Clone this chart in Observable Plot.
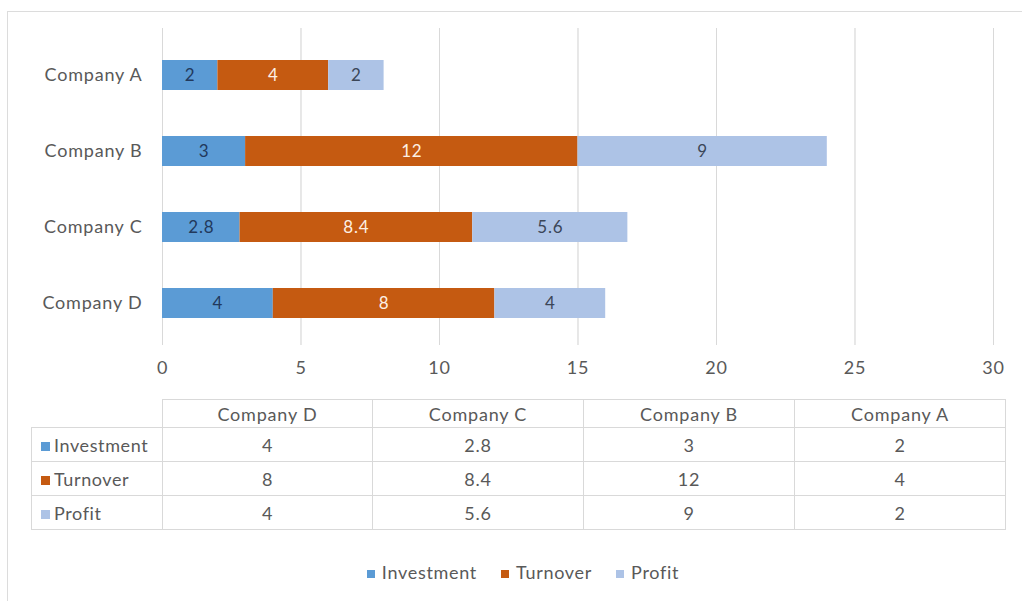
<!DOCTYPE html>
<html>
<head>
<meta charset="utf-8">
<script src="https://cdn.jsdelivr.net/npm/d3@7"></script>
<script src="https://cdn.jsdelivr.net/npm/@observablehq/plot@0.6"></script>
<style>
  html, body { margin: 0; padding: 0; background: #fff; }
  body { width: 1022px; height: 601px; position: relative; overflow: hidden; font-family: Lato, "Open Sans", sans-serif; color: #595959; }
  #frame { position: absolute; left: 7px; top: 11px; width: 1100px; height: 700px; border-left: 1.5px solid #dcdcdc; border-top: 1.5px solid #dcdcdc; }
  #chart { position: absolute; left: 0; top: 0; }
  #tbl { position: absolute; left: 31px; top: 399px; width: 974px; table-layout: fixed; border-collapse: collapse; font-size: 18px; letter-spacing: 0.8px; color: #595959; }
  #tbl td { border: 1px solid #d9d9d9; text-align: center; padding: 0; }
  #tbl td.lab { text-align: left; padding-left: 9px; white-space: nowrap; letter-spacing: 0.6px; }
  #tbl td.blank { border: none; }
  .sw { display: inline-block; width: 9px; height: 9px; margin-right: 4px; vertical-align: 1px; }
  #legend { position: absolute; top: 561px; left: 0; width: 1022px; display: flex; justify-content: center; font-size: 18px; letter-spacing: 0.7px; color: #595959; padding-left: 24px; box-sizing: border-box; }
  #legend span.item { margin: 0 12px; white-space: nowrap; }
  #legend .sw { width: 8px; height: 8px; margin-right: 7px; }
  svg text { letter-spacing: 0.8px; }
</style>
</head>
<body>
<div id="frame"></div>
<div id="chart"></div>
<table id="tbl"></table>
<div id="legend"></div>
<script>
// ---- data ----
const companies = ["Company A", "Company B", "Company C", "Company D"];
const seriesNames = ["Investment", "Turnover", "Profit"];
const investment = [2, 3, 2.8, 4];
const turnover = [4, 12, 8.4, 8];
const profit = [2, 9, 5.6, 4];
const xTicks = [0, 5, 10, 15, 20, 25, 30];
const colors = ["#5b9bd5", "#c55a11", "#adc3e6"];
const labelColors = ["#22395c", "#fdf0e4", "#3b4658"];
const tableColumns = ["Company D", "Company C", "Company B", "Company A"];

const seriesValues = [investment, turnover, profit];
const rows = [];
seriesNames.forEach((s, si) => {
  companies.forEach((c, ci) => {
    rows.push({company: c, series: s, value: seriesValues[si][ci], labelColor: labelColors[si]});
  });
});

const chart = Plot.plot({
  width: 1022,
  height: 390,
  marginLeft: 162,
  marginRight: 29,
  marginTop: 28,
  marginBottom: 45,
  style: {fontFamily: "Lato, 'Open Sans', sans-serif", fontSize: "18px", color: "#595959", background: "transparent"},
  x: {domain: [0, 30], ticks: xTicks, grid: true, label: null, tickSize: 0, tickPadding: 16},
  y: {domain: companies, paddingInner: 0.6, paddingOuter: 0.38, align: 0.55, label: null, tickSize: 0, tickPadding: 20},
  color: {domain: seriesNames, range: colors},
  marks: [
    Plot.gridX(xTicks, {stroke: "#d9d9d9", strokeOpacity: 1, strokeWidth: 1}),
    Plot.barX(rows, Plot.stackX({x: "value", y: "company", fill: "series", z: "series"})),
    Plot.textX(rows, Plot.stackX({x: "value", y: "company", z: "series", text: d => String(d.value), fill: "labelColor", fontSize: 17})),
    Plot.axisX({ticks: xTicks, tickSize: 0, tickPadding: 16, fill: "#595959"}),
    Plot.axisY({tickSize: 0, tickPadding: 20, fill: "#595959"})
  ]
});
document.getElementById("chart").appendChild(chart);

// ---- data table ----
const tbl = document.getElementById("tbl");
const colWidths = [131, 210, 211, 211, 211];
let html = "<colgroup>" + colWidths.map(w => "<col style='width:" + w + "px'>").join("") + "</colgroup>";
html += "<tr style='height:28px'><td class='blank'></td>";
tableColumns.forEach(c => { html += "<td>" + c + "</td>"; });
html += "</tr>";
seriesNames.forEach((s, si) => {
  html += "<tr style='height:34px'><td class='lab'><span class='sw' style='background:" + colors[si] + "'></span>" + s + "</td>";
  tableColumns.forEach(c => {
    const ci = companies.indexOf(c);
    html += "<td>" + seriesValues[si][ci] + "</td>";
  });
  html += "</tr>";
});
tbl.innerHTML = html;

// ---- legend ----
const legend = document.getElementById("legend");
legend.innerHTML = seriesNames.map((s, i) =>
  "<span class='item'><span class='sw' style='background:" + colors[i] + "'></span>" + s + "</span>").join("");
</script>
</body>
</html>
